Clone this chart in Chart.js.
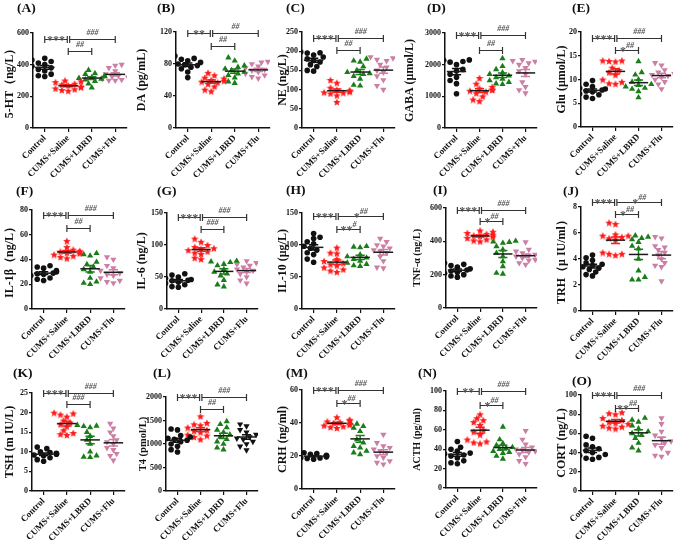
<!DOCTYPE html>
<html>
<head>
<meta charset="utf-8">
<script src="https://cdn.jsdelivr.net/npm/chart.js@4.4.0/dist/chart.umd.min.js"></script>
<style>
    html, body { margin: 0; padding: 0; background: #fff; }
    #wrap { position: relative; width: 685px; height: 541px; overflow: hidden; }
    #wrap canvas { position: absolute; }
    .lab { position: absolute; font: bold 13.5px "Liberation Serif", serif; color: #111; line-height: 1; white-space: nowrap; }
</style>
</head>
<body>
<div id="wrap"></div>
<script>
// ============================================
// DATA
// ============================================
const groups = ['Control', 'CUMS+Saline', 'CUMS+LBRD', 'CUMS+Flu'];
const letters = ['A', 'B', 'C', 'D', 'E', 'F', 'G', 'H', 'I', 'J', 'K', 'L', 'M', 'N', 'O'];
const yTitles = ['5-HT（ng/L）', 'DA (pg/mL)', 'NE (ng/L)', 'GABA (μmol/L)', 'Glu (μmol/L)',
    'IL-1β（ng/L）', 'IL-6 (ng/L)', 'IL-10 (μg/L)', 'TNF-α (ng/L)', 'TRH（μ IU/ml）',
    'TSH (m IU/L)', 'T4 (pmol/L)', 'CRH (ng/ml)', 'ACTH (pg/ml)', 'CORT (ng/L)'];
const yMaxes = [600, 120, 250, 3000, 20, 80, 150, 150, 600, 8, 25, 2000, 60, 100, 100];
const ySteps = [200, 40, 50, 1000, 5, 20, 50, 50, 200, 2, 5, 500, 20, 20, 20];
// [Control vs Saline, Saline vs Flu, Saline vs LBRD]
const sigMarks = [
    ['***', '###', '##'], ['**', '##', '##'], ['***', '###', '##'], ['***', '###', '##'], ['***', '###', '*##'],
    ['***', '###', '##'], ['***', '###', '###'], ['***', '*##', '**#'], ['***', '###', '*##'], ['***', '*##', '*##'],
    ['***', '###', '###'], ['***', '###', '##'], ['***', '###', '*##'], ['**', '###', '*##'], ['***', '###', '**##']
];

// each: [Control, CUMS+Saline, CUMS+LBRD, CUMS+Flu]
const ht5 = [
    [440, 430, 420, 410, 400, 390, 380, 370, 360, 340, 330, 325],
    [300, 295, 290, 280, 275, 270, 262, 258, 250, 245, 240, 235],
    [365, 345, 340, 330, 325, 320, 315, 310, 305, 295, 280, 255],
    [400, 395, 380, 360, 340, 330, 325, 320, 310, 305, 300, 300]
];
const da = [
    [90, 87, 86, 84, 82, 80, 79, 78, 76, 74, 70, 63],
    [69, 66, 63, 62, 60, 59, 58, 57, 55, 52, 48, 46],
    [88, 84, 78, 76, 74, 72, 70, 68, 66, 63, 58, 56],
    [83, 82, 80, 77, 75, 73, 72, 70, 68, 66, 64, 62]
];
const ne = [
    [198, 196, 195, 190, 185, 180, 176, 172, 165, 160, 150, 148],
    [125, 118, 105, 100, 98, 96, 95, 93, 92, 90, 85, 68],
    [180, 175, 172, 160, 150, 145, 142, 140, 135, 128, 112, 110],
    [185, 182, 178, 175, 165, 158, 150, 145, 135, 125, 110, 100]
];
const gaba = [
    [2150, 2140, 2100, 2080, 2000, 1850, 1800, 1700, 1600, 1500, 1400, 1080],
    [1580, 1400, 1300, 1250, 1220, 1200, 1180, 1150, 1100, 1000, 900, 850],
    [2200, 1950, 1850, 1750, 1700, 1650, 1600, 1550, 1500, 1450, 1400, 1380],
    [2150, 2120, 2100, 2050, 2000, 1900, 1800, 1700, 1450, 1300, 1200, 1100]
];
const glu = [
    [9.8, 9.0, 8.5, 8.2, 8.0, 7.8, 7.6, 7.4, 7.0, 6.8, 6.3, 6.0],
    [14.0, 14.0, 13.9, 13.8, 12.5, 12.0, 11.5, 11.0, 10.0, 9.5, 9.2, 9.1],
    [13.8, 11.5, 11.0, 10.0, 9.5, 9.0, 8.8, 8.5, 8.2, 8.0, 7.5, 6.2],
    [13.5, 13.0, 12.0, 11.5, 11.2, 11.0, 10.8, 10.5, 10.0, 9.5, 9.0, 8.0]
];
const il1b = [
    [35, 34, 33, 31, 30, 29, 28.5, 28, 27, 25, 24, 23],
    [55, 50, 48, 47, 46.5, 46, 45.5, 45, 44, 43, 42, 41],
    [45, 44, 43, 38, 36, 34, 32, 30, 25, 22, 21, 20],
    [42, 40, 35, 33, 31, 29, 28, 27, 25, 23, 22, 21]
];
const il6 = [
    [55, 53, 50, 48, 46, 45, 44, 42, 40, 38, 35, 34],
    [110, 105, 100, 97, 95, 94, 92, 90, 88, 86, 80, 78],
    [75, 74, 73, 70, 68, 62, 58, 55, 52, 45, 38, 35],
    [75, 72, 70, 68, 65, 62, 60, 58, 55, 50, 45, 40]
];
const il10 = [
    [118, 112, 110, 105, 102, 98, 95, 92, 88, 85, 78, 73],
    [96, 88, 87, 78, 75, 72, 70, 68, 65, 62, 60, 58],
    [98, 97, 96, 85, 82, 80, 78, 75, 72, 70, 68, 67],
    [110, 105, 100, 98, 95, 92, 90, 88, 82, 75, 65, 64]
];
const tnfa = [
    [270, 262, 255, 245, 235, 228, 222, 215, 208, 200, 192, 185],
    [465, 458, 450, 445, 440, 435, 432, 428, 420, 412, 405, 400],
    [402, 398, 395, 390, 370, 350, 330, 310, 280, 250, 210, 205],
    [395, 350, 340, 330, 320, 315, 310, 300, 290, 285, 270, 260]
];
const trh = [
    [4.3, 4.1, 3.9, 3.7, 3.6, 3.5, 3.4, 3.3, 3.2, 3.0, 2.8, 2.7],
    [6.8, 6.7, 5.9, 5.8, 5.8, 5.7, 5.6, 5.5, 4.5, 4.4, 4.4, 4.3],
    [5.8, 5.7, 5.6, 5.5, 5.3, 5.0, 4.8, 4.0, 3.1, 2.6, 2.4, 2.4],
    [5.7, 5.6, 5.0, 4.9, 4.7, 4.5, 4.3, 4.0, 3.7, 3.5, 3.4, 2.3]
];
const tsh = [
    [11.2, 10.8, 10.0, 9.8, 9.6, 9.5, 9.4, 9.2, 9.0, 8.5, 8.0, 7.6],
    [20.0, 19.8, 19.5, 19.0, 18.0, 17.5, 17.0, 16.5, 15.5, 14.8, 14.5, 14.3],
    [16.8, 16.6, 16.5, 16.2, 15.0, 14.0, 13.0, 12.0, 10.0, 9.0, 8.7, 8.6],
    [17.2, 16.0, 15.0, 14.0, 13.0, 12.5, 12.0, 11.0, 10.5, 9.5, 9.0, 7.8]
];
const t4 = [
    [1320, 1300, 1180, 1150, 1120, 1100, 1080, 1050, 1000, 950, 880, 830],
    [1590, 1450, 1420, 1400, 1350, 1300, 1280, 1250, 1200, 1180, 1150, 1100],
    [1480, 1420, 1350, 1300, 1250, 1200, 1150, 1100, 1050, 1000, 920, 880],
    [1420, 1380, 1300, 1250, 1200, 1150, 1120, 1100, 1050, 1000, 950, 870]
];
const crh = [
    [22, 21.5, 21, 20.5, 20, 20, 19.8, 19.5, 19, 18.8, 18.5, 18],
    [43.5, 42, 41.5, 41, 40.5, 40, 39.5, 39, 38.5, 38, 37.5, 37],
    [40, 39.5, 38, 37, 35, 30, 28, 26, 25, 23, 22, 21],
    [33, 28, 26, 25, 24, 23, 22, 20, 19, 17, 16, 15]
];
const acth = [
    [48, 42, 40, 38, 36, 35, 34, 33, 31, 28, 26, 25],
    [76, 72, 70, 68, 65, 60, 58, 55, 50, 48, 47, 46],
    [63, 50, 46, 44, 42, 41, 40, 38, 37, 36, 33, 30],
    [59, 50, 45, 42, 40, 39, 38, 37, 35, 32, 28, 25]
];
const cort = [
    [57, 55, 48, 46, 44, 42, 40, 38, 37, 35, 34, 33],
    [82, 81, 80, 76, 74, 72, 71, 70, 68, 67, 66, 65],
    [76, 74, 72, 68, 65, 62, 60, 58, 55, 50, 45, 42],
    [76, 70, 62, 58, 55, 52, 50, 48, 45, 40, 37, 36]
];
const panelData = [ht5, da, ne, gaba, glu, il1b, il6, il10, tnfa, trh, tsh, t4, crh, acth, cort];

// ============================================
// LAYOUT (pixels in the 685x541 page)
// ax/ar = x axis ends, pt/pb = pixel of y max / y zero, yx = y title centre,
// lx/ly = panel letter, b1/b2 = bracket heights as fraction of y max, fs = y title size
// ============================================
const layout = [
    { ax: 33, ar: 127, pt: 33, pb: 128, yx: 10, lx: 17, ly: 8, b1: 0.94, b2: 0.81, fs: 12 },
    { ax: 176, ar: 270, pt: 32, pb: 128, yx: 142, lx: 157, ly: 8, b1: 0.99, b2: 0.85, fs: 12 },
    { ax: 302, ar: 395, pt: 32, pb: 128, yx: 283, lx: 286, ly: 8, b1: 0.94, b2: 0.81, fs: 12 },
    { ax: 445, ar: 537, pt: 33, pb: 128, yx: 410, lx: 427, ly: 8, b1: 0.98, b2: 0.82, fs: 12 },
    { ax: 581, ar: 673, pt: 32, pb: 127, yx: 562, lx: 572, ly: 8, b1: 0.94, b2: 0.81, fs: 12 },
    { ax: 32, ar: 125, pt: 210, pb: 309, yx: 10, lx: 16, ly: 191, b1: 0.95, b2: 0.82, fs: 12 },
    { ax: 167, ar: 258, pt: 213, pb: 309, yx: 142, lx: 157, ly: 191, b1: 0.96, b2: 0.83, fs: 12 },
    { ax: 302, ar: 395, pt: 213, pb: 309, yx: 283, lx: 286, ly: 190, b1: 0.97, b2: 0.83, fs: 12 },
    { ax: 446, ar: 537, pt: 208, pb: 308, yx: 417, lx: 433, ly: 190, b1: 0.98, b2: 0.87, fs: 10 },
    { ax: 581, ar: 673, pt: 207, pb: 311, yx: 562, lx: 563, ly: 191, b1: 1.05, b2: 0.93, fs: 12 },
    { ax: 32, ar: 125, pt: 393, pb: 491, yx: 10, lx: 13, ly: 373, b1: 1.0, b2: 0.89, fs: 12 },
    { ax: 166, ar: 258, pt: 397, pb: 491, yx: 143, lx: 153, ly: 373, b1: 1.0, b2: 0.87, fs: 10.5 },
    { ax: 302, ar: 395, pt: 390, pb: 489, yx: 283, lx: 286, ly: 373, b1: 1.0, b2: 0.87, fs: 12 },
    { ax: 446, ar: 537, pt: 391, pb: 488, yx: 417, lx: 418, ly: 373, b1: 1.0, b2: 0.86, fs: 10 },
    { ax: 581, ar: 673, pt: 395, pb: 491, yx: 562, lx: 572, ly: 381, b1: 1.0, b2: 0.86, fs: 12 }
];

const FONT = '"Liberation Serif", "Times New Roman", serif';
const groupColors = ['#111111', '#ff1a1a', '#1a7d1a', '#cc7fa5'];

// filled five-point star used as a point image
function makeStar(color, size) {
    const c = document.createElement('canvas');
    c.width = c.height = size;
    const g = c.getContext('2d');
    g.fillStyle = color;
    g.beginPath();
    for (let i = 0; i < 10; i++) {
        const r = i % 2 ? size * 0.22 : size * 0.5;
        const a = -Math.PI / 2 + i * Math.PI / 5;
        g.lineTo(size / 2 + r * Math.cos(a), size / 2 + 0.5 + r * Math.sin(a));
    }
    g.closePath();
    g.fill();
    return c;
}
const redStar = makeStar(groupColors[1], 8);

// simple beeswarm: spread points sideways when they would overlap
function swarm(values, gi, pxPerUnit, catPx) {
    const order = values.map((v, i) => i).sort((a, b) => values[a] - values[b]);
    const placed = [];
    const xs = new Array(values.length);
    const slot = 3.2 / catPx;
    order.forEach(i => {
        const v = values[i];
        for (let k = 0; k < 9; k++) {
            const off = (k % 2 ? -1 : 1) * Math.ceil(k / 2) * slot;
            const ok = placed.every(p => Math.hypot((p.off - off) * catPx, (p.v - v) * pxPerUnit) >= 5);
            if (ok || k === 8) {
                placed.push({ off, v });
                xs[i] = gi + off;
                break;
            }
        }
    });
    return xs;
}

function drawMark(ctx, label, cx, py) {
    const stars = label.replace(/#/g, '');
    const hashes = label.replace(/\*/g, '');
    const starFont = 'bold 12px ' + FONT;
    const hashFont = 'italic bold 8px ' + FONT;
    ctx.font = starFont;
    const ws = stars ? ctx.measureText(stars).width : 0;
    ctx.font = hashFont;
    const wh = hashes ? ctx.measureText(hashes).width : 0;
    let x0 = cx - (ws + wh) / 2;
    ctx.fillStyle = '#555';
    ctx.textAlign = 'left';
    ctx.textBaseline = 'alphabetic';
    if (stars) {
        ctx.font = starFont;
        ctx.fillText(stars, x0, py + 6);
        x0 += ws;
    }
    if (hashes) {
        ctx.font = hashFont;
        ctx.fillText(hashes, x0, stars ? py - 0.5 : py - 3);
    }
}

// mean ± SEM lines and significance brackets
const overlayPlugin = {
    id: 'overlay',
    afterDatasetsDraw(chart, args, opts) {
        const { ctx } = chart;
        const x = chart.scales.x, y = chart.scales.y;
        ctx.save();
        ctx.lineWidth = 1.5;
        opts.series.forEach((vals, gi) => {
            const n = vals.length;
            const mean = vals.reduce((s, v) => s + v, 0) / n;
            const sd = Math.sqrt(vals.reduce((s, v) => s + (v - mean) ** 2, 0) / (n - 1));
            const sem = sd / Math.sqrt(n);
            const xc = x.getPixelForValue(gi);
            const w = x.getPixelForValue(gi + 0.42) - xc;
            const c = x.getPixelForValue(gi + 0.2) - xc;
            const ym = y.getPixelForValue(mean);
            const yh = y.getPixelForValue(mean + sem);
            const yl = y.getPixelForValue(mean - sem);
            // SEM whiskers in the group colour
            ctx.strokeStyle = opts.colors[gi];
            ctx.beginPath();
            ctx.moveTo(xc, yh); ctx.lineTo(xc, yl);
            ctx.moveTo(xc - c, yh); ctx.lineTo(xc + c, yh);
            ctx.moveTo(xc - c, yl); ctx.lineTo(xc + c, yl);
            ctx.stroke();
            // mean line
            ctx.strokeStyle = '#1a1a1a';
            ctx.beginPath();
            ctx.moveTo(xc - w, ym); ctx.lineTo(xc + w, ym);
            ctx.stroke();
        });

        const bracket = (g0, g1, frac, label) => {
            const px0 = x.getPixelForValue(g0), px1 = x.getPixelForValue(g1);
            const py = Math.round(y.getPixelForValue(opts.yMax * frac)) + 0.5;
            ctx.strokeStyle = '#333';
            ctx.lineWidth = 1.2;
            ctx.beginPath();
            ctx.moveTo(px0, py); ctx.lineTo(px1, py);
            ctx.moveTo(px0, py - 3.5); ctx.lineTo(px0, py + 3.5);
            ctx.moveTo(px1, py - 3.5); ctx.lineTo(px1, py + 3.5);
            ctx.stroke();
            drawMark(ctx, label, (px0 + px1) / 2, py - 2);
        };
        bracket(0, 0.96, opts.b1, opts.marks[0]);
        bracket(1.06, 3, opts.b1, opts.marks[1]);
        bracket(1.0, 2.0, opts.b2, opts.marks[2]);
        ctx.restore();
    }
};

// ============================================
// BUILD PANELS
// ============================================
const wrap = document.getElementById('wrap');

panelData.forEach((series, p) => {
    const L = layout[p];
    const yMax = yMaxes[p];
    const lineH = L.fs * 1.2;
    const left = Math.round(L.yx - lineH / 2);
    const top = L.pt - 24;
    const right = L.ar + 12;
    const bottom = L.pb + 54;
    const W = right - left, H = bottom - top;

    const canvas = document.createElement('canvas');
    canvas.width = W;
    canvas.height = H;
    canvas.style.left = left + 'px';
    canvas.style.top = top + 'px';
    canvas.style.width = W + 'px';
    canvas.style.height = H + 'px';
    wrap.appendChild(canvas);

    const lab = document.createElement('div');
    lab.className = 'lab';
    lab.textContent = '(' + letters[p] + ')';
    lab.style.left = L.lx + 'px';
    lab.style.top = (L.ly - 7) + 'px';
    wrap.appendChild(lab);

    const pxPerUnit = (L.pb - L.pt) / yMax;
    const catPx = (L.ar - L.ax) / 4;
    const colors = groupColors.slice();
    if (letters[p] === 'L') colors[3] = '#111111';

    const datasets = series.map((vals, gi) => {
        const xs = swarm(vals, gi, pxPerUnit, catPx);
        return {
            data: vals.map((v, i) => ({ x: xs[i], y: v })),
            pointStyle: gi === 0 ? 'circle' : gi === 1 ? redStar : 'triangle',
            pointRadius: gi === 0 ? 2.8 : 3.6,
            pointRotation: gi === 3 ? 180 : 0,
            backgroundColor: colors[gi],
            borderColor: colors[gi],
            borderWidth: 0
        };
    });

    new Chart(canvas.getContext('2d'), {
        type: 'scatter',
        data: { datasets },
        options: {
            responsive: false,
            animation: false,
            devicePixelRatio: 1,
            layout: { padding: { left: 0, top: L.pt - top, right: right - L.ar, bottom: 0 } },
            plugins: {
                legend: { display: false },
                tooltip: { enabled: false },
                overlay: { series, yMax, colors, b1: L.b1, b2: L.b2, marks: sigMarks[p] }
            },
            scales: {
                x: {
                    type: 'linear',
                    min: -0.5,
                    max: 3.5,
                    afterBuildTicks: s => { s.ticks = groups.map((g, i) => ({ value: i })); },
                    afterFit: s => { s.height = bottom - L.pb; },
                    ticks: {
                        autoSkip: false,
                        minRotation: 45,
                        maxRotation: 45,
                        padding: 1,
                        color: '#111',
                        font: { family: FONT, weight: 'bold', size: 9 },
                        callback: v => groups[v]
                    },
                    grid: { display: true, drawOnChartArea: false, drawTicks: true, tickLength: 4, color: '#111', lineWidth: 1.2 },
                    border: { display: true, color: '#111', width: 1.5 }
                },
                y: {
                    min: 0,
                    max: yMax,
                    afterFit: s => { s.width = L.ax - left; },
                    ticks: {
                        stepSize: ySteps[p],
                        padding: 1,
                        color: '#111',
                        font: { family: FONT, weight: 'bold', size: 8 },
                        callback: v => String(v)
                    },
                    title: {
                        display: true,
                        text: yTitles[p],
                        color: '#111',
                        padding: 0,
                        font: { family: FONT, weight: 'bold', size: L.fs }
                    },
                    grid: { display: true, drawOnChartArea: false, drawTicks: true, tickLength: 3, color: '#111', lineWidth: 1.2 },
                    border: { display: true, color: '#111', width: 1.5 }
                }
            }
        },
        plugins: [overlayPlugin]
    });
});
</script>
</body>
</html>
